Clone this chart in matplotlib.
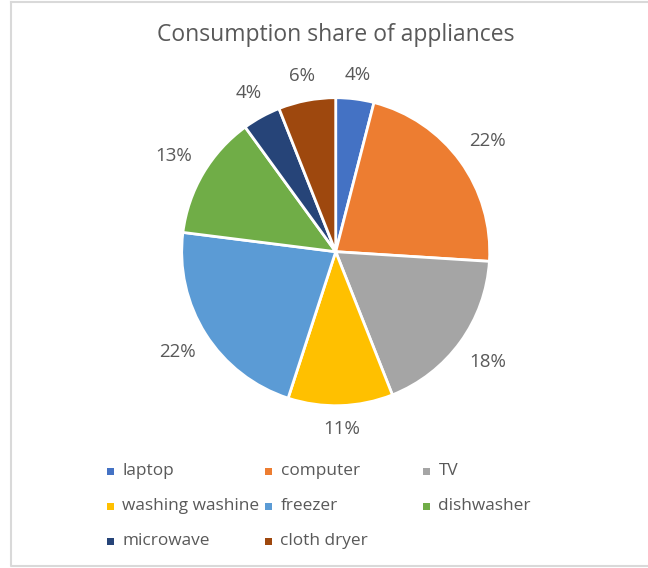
import numpy as np
import matplotlib
matplotlib.use("Agg")
import matplotlib.pyplot as plt
from matplotlib.patches import Rectangle
from matplotlib.lines import Line2D

# Data
appliances = ["laptop", "computer", "TV", "washing washine", "freezer",
              "dishwasher", "microwave", "cloth dryer"]
shares = [4, 22, 18, 11, 22, 13, 4, 6]
colors = ["#4472C4", "#ED7D31", "#A5A5A5", "#FFC000", "#5B9BD5",
          "#70AD47", "#264478", "#9E480E"]
title = "Consumption share of appliances"

FONT = ["Open Sans", "DejaVu Sans"]
TEXT = "#595959"
W, H = 648, 568

fig = plt.figure(figsize=(W / 100, H / 100), dpi=100)
fig.patch.set_facecolor("white")

# Chart frame (left, top and bottom edges visible)
frame = Line2D([11 / W, 11 / W, 1.0], [1 - 1.5 / H, 1 - 566 / H, 1 - 566 / H],
               transform=fig.transFigure, color="#D9D9D9", lw=1.5)
frame2 = Line2D([11 / W, 1.0], [1 - 1.5 / H, 1 - 1.5 / H],
                transform=fig.transFigure, color="#D9D9D9", lw=1.5)
fig.add_artist(frame)
fig.add_artist(frame2)

fig.text(336 / W, 1 - 35 / H, title, ha="center", va="center",
         fontsize=16.5, color=TEXT, family=FONT)

# Pie axes
cx, cy, r = 335.7, 251.7, 154
ax = fig.add_axes([(cx - r) / W, 1 - (cy + r) / H, 2 * r / W, 2 * r / H])
wedges, _ = ax.pie(shares, colors=colors, startangle=90, counterclock=False,
                   radius=1.0,
                   wedgeprops=dict(edgecolor="white", linewidth=2))
ax.set_xlim(-1, 1)
ax.set_ylim(-1, 1)
ax.set_aspect("equal")
ax.axis("off")

# Percentage labels placed just outside each wedge
total = float(sum(shares))
gap = 14 / r
hh = 8.5 / r
for w, v in zip(wedges, shares):
    label = f"{v / total * 100:.0f}%"
    ang = np.deg2rad((w.theta1 + w.theta2) / 2)
    hw = (6.0 * len(label)) / r
    d = 1.0 + gap + abs(np.cos(ang)) * hw + abs(np.sin(ang)) * hh
    ax.text(d * np.cos(ang), d * np.sin(ang), label, ha="center", va="center",
            fontsize=13.5, color=TEXT, family=FONT, clip_on=False)

# Legend in three columns, filled row by row
col_x = [110.5, 268.5, 426.5]
row_y = [471, 506, 541]
sq = 7
for i, (name, c) in enumerate(zip(appliances, colors)):
    x = col_x[i % 3]
    y = row_y[i // 3]
    fig.add_artist(Rectangle(((x - sq / 2) / W, 1 - (y + sq / 2) / H), sq / W, sq / H,
                             transform=fig.transFigure, facecolor=c, edgecolor="none"))
    fig.text((x + 12) / W, 1 - y / H, name, ha="left", va="center",
             fontsize=12.4, color=TEXT, family=FONT)

fig.savefig("out.png", dpi=100, facecolor="white")
